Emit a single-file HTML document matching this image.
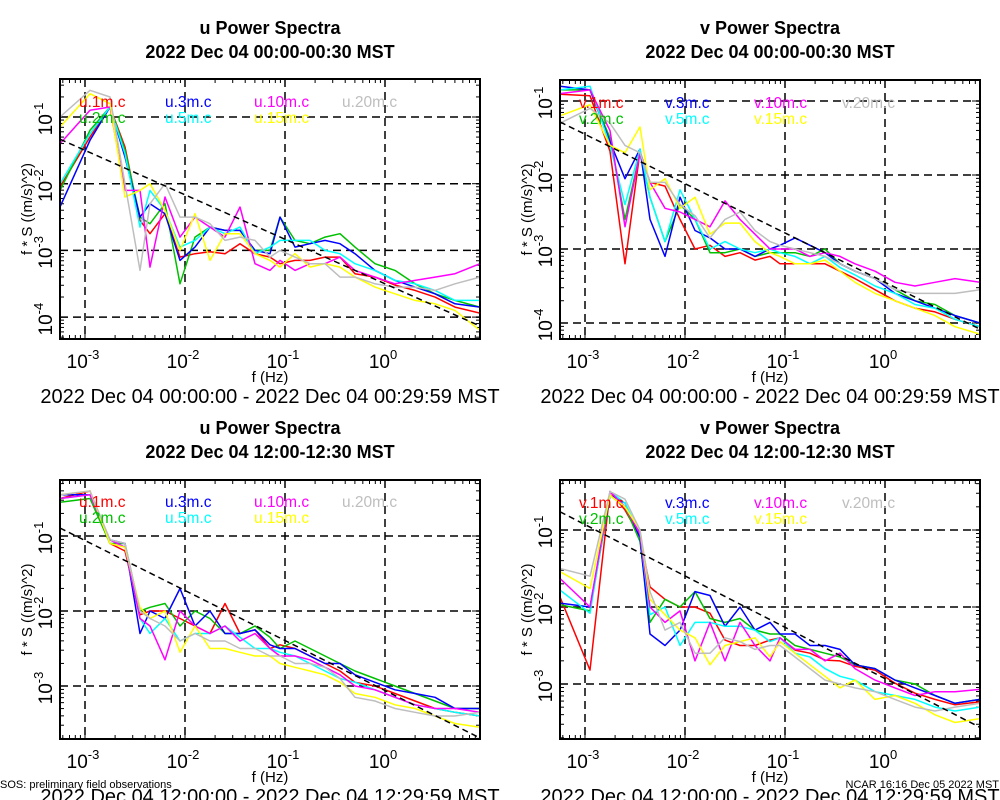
<!DOCTYPE html>
<html><head><meta charset="utf-8"><style>
html,body{margin:0;padding:0;background:#fff;}
svg{display:block;font-family:"Liberation Sans",sans-serif;}
</style></head><body>
<svg id="chart" width="1000" height="800" viewBox="0 0 1000 800" xmlns="http://www.w3.org/2000/svg"></svg>
<script>
// shared log10 frequency grid
const freqLog = [-3.25,-2.95,-2.75,-2.6,-2.45,-2.35,-2.2,-2.05,-1.9,-1.75,-1.6,-1.45,-1.3,-1.15,-1.05,-0.9,-0.75,-0.6,-0.45,-0.3,-0.1,0.1,0.3,0.5,0.7,0.95];
const heightNames = ["1m","2m","3m","5m","10m","15m","20m"];
const xTickExps = [-3,-2,-1,0];
// panel 0: u 00:00 (log10 power)
const u00_1m = [-2.05,-1.3,-0.85,-1.45,-2.55,-2.75,-2.45,-3.1,-3.05,-3.02,-3.05,-2.9,-3.05,-3.1,-3.2,-3.15,-3.15,-3.1,-3.1,-3.35,-3.4,-3.52,-3.6,-3.7,-3.85,-3.94];
const u00_2m = [-2.1,-1.2,-0.85,-1.5,-2.5,-2.6,-2.3,-3.5,-2.8,-2.65,-2.7,-2.7,-3.0,-3.0,-2.5,-2.85,-2.9,-2.8,-2.75,-2.95,-3.2,-3.3,-3.5,-3.65,-3.75,-3.85];
const u00_3m = [-2.35,-1.35,-0.85,-1.6,-2.5,-2.3,-2.45,-3.15,-2.95,-2.65,-2.7,-2.7,-3.0,-3.05,-2.5,-2.95,-2.9,-2.85,-2.9,-3.05,-3.3,-3.45,-3.55,-3.65,-3.8,-3.85];
const u00_5m = [-2.0,-1.25,-0.85,-1.55,-2.65,-2.1,-2.4,-2.95,-2.85,-2.65,-2.75,-2.65,-3.05,-2.95,-2.85,-2.85,-2.85,-3.0,-3.05,-3.2,-3.3,-3.45,-3.5,-3.6,-3.75,-3.75];
const u00_10m = [-1.4,-0.9,-0.85,-2.1,-2.1,-3.25,-2.2,-2.8,-2.5,-2.65,-2.8,-2.35,-3.2,-3.3,-3.15,-3.3,-3.2,-3.2,-3.1,-3.3,-3.4,-3.5,-3.45,-3.4,-3.35,-3.2];
const u00_15m = [-1.15,-0.65,-0.8,-2.2,-2.1,-2.0,-2.4,-3.0,-2.45,-3.15,-2.75,-2.75,-3.05,-3.15,-3.25,-3.05,-3.25,-3.2,-3.25,-3.4,-3.55,-3.65,-3.75,-3.8,-3.9,-4.2];
const u00_20m = [-1.0,-0.6,-0.7,-2.0,-3.3,-2.3,-2.0,-2.5,-2.5,-2.6,-2.85,-2.8,-2.85,-3.1,-3.0,-3.1,-3.2,-3.2,-3.4,-3.4,-3.5,-3.55,-3.55,-3.6,-3.5,-3.4];
// panel 1: v 00:00
const v00_1m = [-0.91,-0.93,-1.68,-3.2,-1.68,-2.1,-2.15,-2.6,-3.0,-2.95,-3.1,-3.05,-3.15,-3.1,-3.2,-3.2,-3.2,-3.2,-3.3,-3.4,-3.55,-3.7,-3.8,-3.85,-3.95,-4.05];
const v00_2m = [-0.85,-0.85,-1.5,-2.6,-1.7,-2.3,-2.9,-2.4,-2.6,-3.05,-3.05,-3.0,-3.1,-3.05,-3.05,-3.05,-3.1,-3.0,-3.2,-3.3,-3.4,-3.55,-3.7,-3.75,-3.9,-4.0];
const v00_3m = [-0.8,-0.85,-1.55,-2.05,-1.65,-2.6,-3.1,-2.3,-2.75,-2.85,-3.0,-3.0,-3.1,-3.0,-2.95,-2.85,-2.95,-3.05,-3.2,-3.3,-3.4,-3.6,-3.7,-3.8,-3.9,-4.0];
const v00_5m = [-0.85,-0.8,-1.6,-2.4,-1.65,-2.3,-2.9,-2.2,-2.6,-3.0,-2.9,-3.0,-3.05,-3.0,-3.05,-3.1,-3.2,-3.1,-3.25,-3.35,-3.5,-3.6,-3.75,-3.8,-3.95,-4.05];
const v00_10m = [-0.9,-0.85,-1.4,-2.7,-1.7,-2.1,-2.45,-2.5,-2.6,-2.7,-2.35,-2.6,-2.8,-3.0,-3.0,-3.0,-3.1,-3.05,-3.1,-3.2,-3.3,-3.45,-3.5,-3.45,-3.4,-3.45];
const v00_15m = [-1.2,-1.05,-1.6,-1.7,-1.35,-2.2,-2.05,-2.45,-2.3,-2.8,-2.65,-2.65,-2.9,-3.05,-3.1,-3.2,-3.2,-3.15,-3.3,-3.45,-3.6,-3.7,-3.8,-3.9,-4.05,-4.15];
const v00_20m = [-1.3,-1.1,-1.3,-1.6,-1.7,-2.1,-2.1,-2.4,-2.55,-2.85,-2.6,-2.5,-2.75,-2.9,-2.95,-3.0,-3.05,-3.1,-3.2,-3.3,-3.4,-3.55,-3.6,-3.6,-3.6,-3.55];
// panel 2: u 12:00
const u12_1m = [-0.5,-0.4,-1.1,-1.2,-2.05,-2.0,-2.0,-2.1,-2.2,-2.3,-1.9,-2.3,-2.25,-2.5,-2.45,-2.5,-2.6,-2.7,-2.8,-2.95,-3.0,-3.1,-3.2,-3.3,-3.35,-3.4];
const u12_2m = [-0.55,-0.5,-1.1,-1.1,-2.0,-1.95,-1.9,-2.2,-2.0,-2.1,-2.3,-2.3,-2.2,-2.35,-2.5,-2.4,-2.5,-2.6,-2.7,-2.8,-2.9,-3.0,-3.1,-3.2,-3.3,-3.3];
const u12_3m = [-0.45,-0.45,-1.05,-1.1,-2.3,-2.0,-2.1,-1.7,-2.2,-2.0,-2.3,-2.3,-2.25,-2.45,-2.5,-2.5,-2.6,-2.7,-2.7,-2.85,-2.95,-3.05,-3.1,-3.15,-3.3,-3.3];
const u12_5m = [-0.5,-0.45,-1.05,-1.15,-2.1,-2.3,-2.1,-2.4,-2.3,-2.3,-2.2,-2.35,-2.5,-2.5,-2.55,-2.6,-2.7,-2.8,-2.9,-2.95,-3.05,-3.15,-3.25,-3.3,-3.35,-3.4];
const u12_10m = [-0.5,-0.45,-1.05,-1.15,-2.1,-2.2,-2.65,-2.0,-2.2,-2.3,-2.2,-2.4,-2.3,-2.5,-2.6,-2.6,-2.65,-2.75,-2.85,-3.0,-3.05,-3.15,-3.25,-3.3,-3.3,-3.35];
const u12_15m = [-0.45,-0.4,-1.1,-1.15,-1.95,-2.1,-2.0,-2.55,-2.2,-2.5,-2.5,-2.55,-2.6,-2.6,-2.7,-2.75,-2.8,-2.85,-2.95,-3.1,-3.15,-3.25,-3.3,-3.4,-3.5,-3.55];
const u12_20m = [-0.45,-0.4,-1.05,-1.1,-2.0,-2.1,-2.2,-2.4,-2.3,-2.4,-2.4,-2.5,-2.5,-2.6,-2.6,-2.7,-2.7,-2.75,-2.9,-3.15,-3.2,-3.3,-3.35,-3.4,-3.4,-3.35];
// panel 3: v 12:00
const v12_1m = [-1.87,-2.82,-0.5,-0.74,-1.09,-1.74,-1.9,-2.0,-2.0,-2.08,-2.43,-2.5,-2.5,-2.43,-2.4,-2.56,-2.6,-2.69,-2.7,-2.77,-2.82,-2.99,-3.12,-3.2,-3.27,-3.23];
const v12_2m = [-1.97,-2.05,-0.55,-0.7,-1.15,-2.2,-1.9,-2.0,-1.8,-2.15,-2.2,-2.15,-2.3,-2.35,-2.35,-2.5,-2.55,-2.6,-2.65,-2.75,-2.8,-2.95,-3.0,-3.15,-3.25,-3.2];
const v12_3m = [-1.95,-2.0,-0.55,-0.65,-1.1,-2.35,-2.5,-2.3,-1.8,-1.85,-2.25,-2.0,-2.3,-2.2,-2.35,-2.35,-2.5,-2.5,-2.55,-2.75,-2.8,-2.95,-3.05,-3.15,-3.25,-3.2];
const v12_5m = [-1.78,-2.08,-0.5,-0.65,-1.05,-2.1,-2.0,-2.5,-2.2,-2.2,-2.25,-2.25,-2.3,-2.45,-2.4,-2.6,-2.65,-2.8,-2.9,-2.95,-3.1,-3.15,-3.2,-3.3,-3.35,-3.3];
const v12_10m = [-1.63,-2.0,-0.5,-0.7,-1.05,-2.0,-2.2,-2.05,-2.7,-2.2,-2.7,-2.2,-2.5,-2.7,-2.4,-2.55,-2.55,-2.7,-2.6,-2.8,-2.95,-3.05,-3.15,-3.1,-3.1,-3.07];
const v12_15m = [-1.54,-1.76,-0.55,-0.7,-1.0,-1.9,-2.1,-2.3,-2.4,-2.75,-2.5,-2.45,-2.4,-2.65,-2.45,-2.6,-2.75,-2.9,-3.05,-2.95,-3.2,-3.15,-3.25,-3.4,-3.5,-3.45];
const v12_20m = [-1.5,-1.6,-0.5,-0.6,-1.0,-1.8,-2.3,-2.2,-2.6,-2.6,-2.4,-2.45,-2.55,-2.5,-2.5,-2.65,-2.8,-2.95,-3.0,-3.05,-3.1,-3.2,-3.3,-3.35,-3.3,-3.25];
// reference line intercepts (log10 power at f=1 Hz), slope -2/3
const refIntercepts = [-3.5,-3.45,-3.06,-2.93];
const refSlope = -2/3;

const colors = ["#ff0000","#00c000","#0000ff","#00ffff","#ff00ff","#ffff00","#bebebe"];
const panels = [
 {comp:"u",title2:"2022 Dec 04 00:00-00:30 MST",range:"2022 Dec 04 00:00:00 - 2022 Dec 04 00:29:59 MST",x0:60,x1:480,y0:79,y1:339,xRef:85,yRef:117,yDec:66.7,yTicks:[-1,-2,-3,-4],series:[u00_1m,u00_2m,u00_3m,u00_5m,u00_10m,u00_15m,u00_20m],titleY:0,legY:107},
 {comp:"v",title2:"2022 Dec 04 00:00-00:30 MST",range:"2022 Dec 04 00:00:00 - 2022 Dec 04 00:29:59 MST",x0:560,x1:980,y0:80,y1:339,xRef:585,yRef:101,yDec:74,yTicks:[-1,-2,-3,-4],series:[v00_1m,v00_2m,v00_3m,v00_5m,v00_10m,v00_15m,v00_20m],titleY:0,legY:108},
 {comp:"u",title2:"2022 Dec 04 12:00-12:30 MST",range:"2022 Dec 04 12:00:00 - 2022 Dec 04 12:29:59 MST",x0:60,x1:480,y0:480,y1:739,xRef:85,yRef:536,yDec:75,yTicks:[-1,-2,-3],series:[u12_1m,u12_2m,u12_3m,u12_5m,u12_10m,u12_15m,u12_20m],titleY:400,legY:507},
 {comp:"v",title2:"2022 Dec 04 12:00-12:30 MST",range:"2022 Dec 04 12:00:00 - 2022 Dec 04 12:29:59 MST",x0:560,x1:980,y0:480,y1:739,xRef:585,yRef:530,yDec:77,yTicks:[-1,-2,-3],series:[v12_1m,v12_2m,v12_3m,v12_5m,v12_10m,v12_15m,v12_20m],titleY:400,legY:508}
];
const NS="http://www.w3.org/2000/svg";
const svg=document.getElementById('chart');
function mk(tag,attrs,parent){const e=document.createElementNS(NS,tag);for(const k in attrs)e.setAttribute(k,attrs[k]);(parent||svg).appendChild(e);return e;}

panels.forEach((p,pi)=>{
  const g=mk('g',{});
  
  
  const xS=l=>p.xRef+100*(l+3);
  const yS=l=>p.yRef+p.yDec*(-1-l);
  const cx=(p.x0+p.x1)/2;
  let t=mk('text',{x:cx,y:p.titleY+34,'text-anchor':'middle','font-weight':'bold','font-size':18},g);
  t.textContent=p.comp+' Power Spectra';
  
  
  t=mk('text',{x:cx,y:p.titleY+58,'text-anchor':'middle','font-weight':'bold','font-size':18},g);
  t.textContent=p.title2;
  
  
  const cp=mk('clipPath',{id:'clip'+pi},g);
  mk('rect',{x:p.x0,y:p.y0,width:p.x1-p.x0,height:p.y1-p.y0},cp);
  xTickExps.forEach(e=>{
    const x=xS(e);
    const l=mk('line',{x1:x,x2:x,y1:p.y0,y2:p.y1,stroke:'#000','stroke-width':1.5,'stroke-dasharray':'8,5'},g);
    
    
    const tx=mk('text',{x:x-2,y:p.y1+29,'text-anchor':'middle','font-size':19},g);
    
    
    tx.appendChild(document.createTextNode('10'));
    const sp=mk('tspan',{'font-size':13,dy:-9},tx);sp.textContent=String(e);
  });
  p.yTicks.forEach(e=>{
    const y=yS(e);
    const l=mk('line',{x1:p.x0,x2:p.x1,y1:y,y2:y,stroke:'#000','stroke-width':1.5,'stroke-dasharray':'8,5'},g);
    
    
    const tx=mk('text',{transform:'translate('+(p.x0-8)+','+(y+2)+') rotate(-90)','text-anchor':'middle','font-size':19},g);
    
    
    tx.appendChild(document.createTextNode('10'));
    const sp=mk('tspan',{'font-size':13,dy:-9},tx);sp.textContent=String(e);
  });
  for(let d=-4;d<=1;d++)for(let m=1;m<=9;m++){
    const x=xS(d+Math.log10(m));
    if(x<=p.x0||x>=p.x1)continue;
    const len=m===1?8:4;
    mk('line',{x1:x,x2:x,y1:p.y1,y2:p.y1-len,stroke:'#000'},g);
    mk('line',{x1:x,x2:x,y1:p.y0,y2:p.y0+len,stroke:'#000'},g);
  }
  for(let d=-5;d<=0;d++)for(let m=1;m<=9;m++){
    const y=yS(d+Math.log10(m));
    if(y<=p.y0||y>=p.y1)continue;
    const len=m===1?8:4;
    mk('line',{x1:p.x0,x2:p.x0+len,y1:y,y2:y,stroke:'#000'},g);
    mk('line',{x1:p.x1,x2:p.x1-len,y1:y,y2:y,stroke:'#000'},g);
  }
  const sg=mk('g',{'clip-path':'url(#clip'+pi+')'},g);
  p.series.forEach((s,si)=>{
    const pts=s.map((v,i)=>xS(freqLog[i]).toFixed(1)+','+yS(v).toFixed(1)).join(' ');
    const pl=mk('polyline',{points:pts,fill:'none',stroke:colors[si],'stroke-width':1.5,'stroke-linejoin':'round'},sg);
    
    
  });
  const la=freqLog[0], lb=freqLog[freqLog.length-1];
  const rl=mk('line',{x1:xS(la),y1:yS(refIntercepts[pi]+refSlope*la),x2:xS(lb),y2:yS(refIntercepts[pi]+refSlope*lb),stroke:'#000','stroke-width':1.5,'stroke-dasharray':'6,4'},sg);
  
  
  const legX=[p.x0+19,p.x0+105,p.x0+194,p.x0+282];
  for(let si=0;si<7;si++){
    let c, r;
    if(si<6){c=Math.floor(si/2); r=si%2;} else {c=3; r=0;}
    const lt=mk('text',{x:legX[c],y:p.legY+r*16,'font-size':15.5,fill:colors[si]},g);
    lt.textContent=p.comp+'.'+heightNames[si]+'.c';
    
    
  }
  const fr=mk('rect',{x:p.x0,y:p.y0,width:p.x1-p.x0,height:p.y1-p.y0,fill:'none',stroke:'#000','stroke-width':2},g);
  
  
  t=mk('text',{x:cx,y:p.y1+43,'text-anchor':'middle','font-size':15},g);
  t.textContent='f (Hz)';
  
  
  t=mk('text',{transform:'translate('+(p.x0-28)+','+((p.y0+p.y1)/2)+') rotate(-90)','text-anchor':'middle','font-size':15},g);
  t.textContent='f * S ((m/s)^2)';
  
  
  t=mk('text',{x:cx,y:p.y1+64,'text-anchor':'middle','font-size':20},g);
  t.textContent=p.range;
  
  
});
let ft=mk('text',{x:0,y:788,'font-size':11});
ft.textContent='SOS: preliminary field observations';


ft=mk('text',{x:999,y:788,'font-size':11,'text-anchor':'end'});
ft.textContent='NCAR 16:16 Dec 05 2022 MST';


</script>
</body></html>
